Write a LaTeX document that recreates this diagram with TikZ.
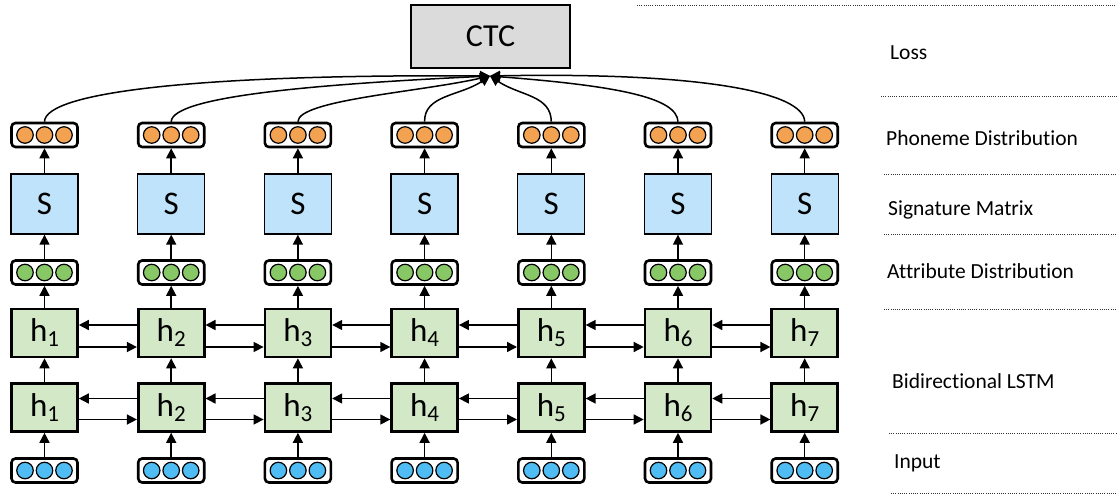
\documentclass[tikz,border=0pt]{standalone}
\usepackage{fontspec}
\setmainfont{Carlito}[Ligatures=NoCommon]
\usetikzlibrary{arrows.meta,calc}
\definecolor{orangedot}{HTML}{F2A250}
\definecolor{greendot}{HTML}{88C765}
\definecolor{bluedot}{HTML}{4FBDF4}
\definecolor{sfill}{HTML}{BEE3FA}
\definecolor{hfill}{HTML}{D3E8C7}
\definecolor{ctcfill}{HTML}{DCDBDC}
\tikzset{
  vecbox/.style={draw, line width=2.6pt, rounded corners=4pt, minimum width=66pt, minimum height=24pt, inner sep=0pt},
  dotc/.style={circle, draw, line width=1.2pt, minimum size=16.5pt, inner sep=0pt, fill=#1},
  hbox/.style={draw, line width=2.6pt, fill=hfill, minimum width=66pt, minimum height=48pt, inner sep=0pt, font=\fontsize{33}{34}\selectfont},
  sbox/.style={draw, line width=1.3pt, fill=sfill, minimum width=67pt, minimum height=60pt, inner sep=0pt, font=\fontsize{33}{34}\selectfont},
  ctcbox/.style={draw, line width=1.3pt, fill=ctcfill, minimum width=159pt, minimum height=63pt, inner sep=0pt, font=\fontsize{32}{34}\selectfont},
  arr/.style={-{Triangle[length=10pt,width=10pt]}, line width=1.5pt},
  curv/.style={-{Triangle[length=10pt,width=10pt]}, line width=1.5pt},
  lbl/.style={anchor=west, inner sep=0pt, font=\fontsize{21.5}{24}\selectfont},
  sep/.style={line width=1pt, dash pattern=on 1pt off 1.2pt, black!80}
}
\newcommand{\hsub}[1]{h\raisebox{-5pt}{\fontsize{23}{24}\selectfont #1}}
\begin{document}
\begin{tikzpicture}[x=1pt,y=-1pt]
\useasboundingbox (0,0) rectangle (1117,495);
% CTC
\node[ctcbox] (ctc) at (490.5,36.5) {CTC};
\coordinate (ctcin) at (490,76);
\foreach \i in {1,...,7}{
  \pgfmathsetmacro{\xc}{44.5+(\i-1)*126.7}
  \node[vecbox] (in\i) at (\xc,470.5) {};
  \node[hbox] (hb\i) at (\xc,407.5) {\hsub{\i}};
  \node[hbox] (ht\i) at (\xc,333) {\hsub{\i}};
  \node[vecbox] (at\i) at (\xc,272.5) {};
  \node[sbox] (s\i) at (\xc,204) {S};
  \node[vecbox] (ph\i) at (\xc,135) {};
  \foreach \d/\n in {-19.5/a,0/b,19.5/c}{
    \node[dotc=bluedot] (in\i\n) at ($(in\i.center)+(\d,0)$) {};
    \node[dotc=greendot] (at\i\n) at ($(at\i.center)+(\d,0)$) {};
    \node[dotc=orangedot] (ph\i\n) at ($(ph\i.center)+(\d,0)$) {};
  }
  \draw[arr] (in\i) -- (hb\i);
  \draw[arr] (hb\i) -- (ht\i);
  \draw[arr] (ht\i) -- (at\i);
  \draw[arr] (at\i) -- (s\i);
  \draw[arr] (s\i) -- (ph\i);
}
\foreach \i [count=\j from 2] in {1,...,6}{
  \draw[arr] ([yshift=8pt]ht\j.west) -- ([yshift=8pt]ht\i.east);
  \draw[arr] ([yshift=-14pt]ht\i.east) -- ([yshift=-14pt]ht\j.west);
  \draw[arr] ([yshift=9pt]hb\j.west) -- ([yshift=9pt]hb\i.east);
  \draw[arr] ([yshift=-12pt]hb\i.east) -- ([yshift=-12pt]hb\j.west);
}
% curves to CTC
\draw[curv] (ph1.north) .. controls (45,92) and (200,74) .. (ctcin);
\draw[curv] (ph2.north) .. controls (172,96) and (320,84) .. (ctcin);
\draw[curv] (ph3.north) .. controls (298,100) and (420,92) .. (ctcin);
\draw[curv] (ph4.north) .. controls (424,95) and (460,96) .. (ctcin);
\draw[curv] (ph5.north) .. controls (551,95) and (520,96) .. (ctcin);
\draw[curv] (ph6.north) .. controls (677,98) and (620,86) .. (ctcin);
\draw[curv] (ph7.north) .. controls (804,92) and (700,72) .. (ctcin);
% right side labels
\draw[sep] (637,6) -- (1117,6);
\node[lbl] (lloss) at (890,53) {Loss};
\draw[sep] (881,97) -- (1117,97);
\node[lbl] (lph) at (886,138) {Phoneme Distribution};
\draw[sep] (884,174) -- (1117,174);
\node[lbl] (lsig) at (888,210) {Signature Matrix};
\draw[sep] (884,234) -- (1117,234);
\node[lbl] (latt) at (887,271) {Attribute Distribution};
\draw[sep] (884,309) -- (1117,309);
\node[lbl] (llstm) at (892,381) {Bidirectional LSTM};
\draw[sep] (889,433) -- (1117,433);
\node[lbl] (lin) at (894,463) {Input};
\draw[sep] (891,493) -- (1117,493);
\end{tikzpicture}
\end{document}
